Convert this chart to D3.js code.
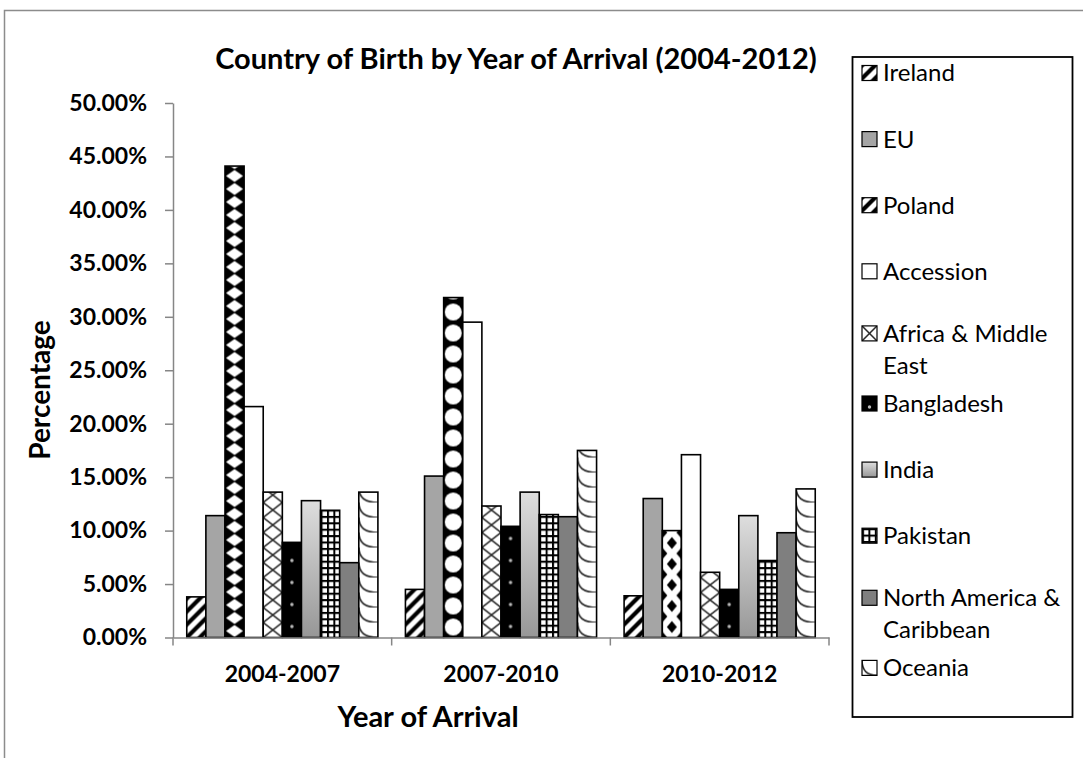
<!DOCTYPE html>
<html>
<head>
<meta charset="utf-8">
<script src="https://cdn.jsdelivr.net/npm/d3@7"></script>
<style>
  body { margin: 0; background: #fff; }
  text { font-family: Lato, "Open Sans", sans-serif; fill: #000; }
</style>
</head>
<body>
<svg id="chart" width="1083" height="758"></svg>
<script>
// Arrival periods and birth regions
const periods = ["2004-2007", "2007-2010", "2010-2012"];
const regions = ["Ireland", "EU", "Poland", "Accession", "Africa & Middle East",
                 "Bangladesh", "India", "Pakistan", "North America & Caribbean", "Oceania"];

// Share of arrivals (%) per region, one value per period
const ireland          = [3.8, 4.5, 3.9];
const eu               = [11.4, 15.1, 13.0];
const poland           = [44.1, 31.8, 10.0];
const accession        = [21.6, 29.5, 17.1];
const africaMiddleEast = [13.6, 12.3, 6.1];
const bangladesh       = [8.9, 10.4, 4.5];
const india            = [12.8, 13.6, 11.4];
const pakistan         = [11.9, 11.5, 7.2];
const northAmerica     = [7.0, 11.3, 9.8];
const oceania          = [13.6, 17.5, 13.9];

const yTicks = [0, 5, 10, 15, 20, 25, 30, 35, 40, 45, 50];
const legendLines = [["Ireland"], ["EU"], ["Poland"], ["Accession"], ["Africa & Middle", "East"],
                     ["Bangladesh"], ["India"], ["Pakistan"], ["North America &", "Caribbean"], ["Oceania"]];

const seriesValues = [ireland, eu, poland, accession, africaMiddleEast,
                      bangladesh, india, pakistan, northAmerica, oceania];

// Fill texture per region; the Poland texture renders differently per period
const textures = ["stripes", "eu", "poland", "white", "lattice", "dots", "gradient", "grid", "dark", "shingle"];
const polandTextures = ["diamond", "circle", "inverse"];

const rows = [];
regions.forEach((r, si) => periods.forEach((p, pi) => rows.push({ region: r, si, period: p, pi, value: seriesValues[si][pi] })));

const svg = d3.select("#chart");
const defs = svg.append("defs");

// Chart area frame
svg.append("rect").attr("x", 4.5).attr("y", 10.5).attr("width", 1100).attr("height", 800)
  .attr("fill", "#fff").attr("stroke", "#8c8c8c").attr("stroke-width", 1.5);

const plot = { left: 173, right: 829, top: 103, bottom: 637.5 };
const x0 = d3.scaleBand().domain(periods).range([plot.left, plot.right]).paddingInner(0).paddingOuter(0);
const x1 = d3.scaleBand().domain(regions).range([0, x0.bandwidth()]).paddingInner(0).paddingOuter(0.72);
const y = d3.scaleLinear().domain([0, 50]).range([plot.bottom, plot.top]);

// India gradient
const grad = defs.append("linearGradient").attr("id", "g-india").attr("x1", 0).attr("y1", 0).attr("x2", 0).attr("y2", 1);
grad.append("stop").attr("offset", 0).attr("stop-color", "#dedede");
grad.append("stop").attr("offset", 1).attr("stop-color", "#979797");

// Builds a pattern anchored at (ox, oy) for a given texture, returns the fill url
let patCount = 0;
function makeFill(kind, ox, oy, w) {
  if (kind === "eu") return "#a5a5a5";
  if (kind === "dark") return "#7f7f7f";
  if (kind === "white") return "#fff";
  if (kind === "gradient") return "url(#g-india)";
  const id = "p" + (patCount++);
  let tw = w, th = 13;
  const pat = defs.append("pattern").attr("id", id).attr("patternUnits", "userSpaceOnUse").attr("x", ox).attr("y", oy);
  const bg = pat.append("rect");
  switch (kind) {
    case "stripes":
      tw = 13; th = 13;
      bg.attr("fill", "#fff");
      pat.append("path").attr("d", `M-4,4 L4,-4 M0,${th} L${tw},0 M${tw - 4},${th + 4} L${tw + 4},${th - 4}`)
        .attr("stroke", "#000").attr("stroke-width", 4.2);
      break;
    case "lattice":
      tw = w; th = 15;
      bg.attr("fill", "#fff");
      pat.append("path").attr("d", `M0,0 L${tw},${th} M${tw},0 L0,${th}`).attr("stroke", "#222").attr("stroke-width", 1.5);
      break;
    case "dots":
      tw = w; th = 22;
      bg.attr("fill", "#000");
      pat.append("circle").attr("cx", tw / 2).attr("cy", th / 2).attr("r", 1.7).attr("fill", "#bbb");
      break;
    case "grid":
      tw = 6.4; th = 6.4;
      bg.attr("fill", "#fff");
      pat.append("path").attr("d", `M1,0 V${th} M0,1 H${tw}`).attr("stroke", "#000").attr("stroke-width", 2);
      break;
    case "shingle":
      tw = w; th = 15;
      bg.attr("fill", "#fff");
      pat.append("path").attr("d", `M0,0 C0,${th * 0.65} ${tw * 0.35},${th} ${tw},${th}`)
        .attr("fill", "none").attr("stroke", "#222").attr("stroke-width", 1.6);
      break;
    case "diamond":
      tw = w; th = 13;
      bg.attr("fill", "#000");
      pat.append("path").attr("d", `M${tw / 2},0.5 L${tw - 1},${th / 2} L${tw / 2},${th - 0.5} L1,${th / 2} Z`).attr("fill", "#fff");
      break;
    case "circle":
      tw = w; th = 21;
      bg.attr("fill", "#000");
      pat.append("circle").attr("cx", tw / 2).attr("cy", th / 2).attr("r", Math.min(tw, th) / 2 - 1).attr("fill", "#fff");
      break;
    case "inverse":
      tw = w; th = 21;
      bg.attr("fill", "#fff");
      pat.append("path").attr("d", `M${tw / 2},${th / 2 - 6} L${tw / 2 + 5},${th / 2} L${tw / 2},${th / 2 + 6} L${tw / 2 - 5},${th / 2} Z`).attr("fill", "#000");
      pat.append("path").attr("d", `M0,-6 L5,0 L0,6 Z M${tw},-6 L${tw - 5},0 L${tw},6 Z M0,${th - 6} L5,${th} L0,${th + 6} Z M${tw},${th - 6} L${tw - 5},${th} L${tw},${th + 6} Z`).attr("fill", "#000");
      break;
  }
  pat.attr("width", tw).attr("height", th);
  bg.attr("width", tw).attr("height", th);
  return `url(#${id})`;
}

// Bars
svg.append("g").selectAll("rect").data(rows).join("rect")
  .attr("x", d => x0(d.period) + x1(d.region))
  .attr("y", d => y(d.value))
  .attr("width", x1.bandwidth())
  .attr("height", d => y(0) - y(d.value))
  .attr("fill", d => {
    const kind = d.si === 2 ? polandTextures[d.pi] : textures[d.si];
    return makeFill(kind, x0(d.period) + x1(d.region), y(0), x1.bandwidth());
  })
  .attr("stroke", "#000").attr("stroke-width", 1.6);

// Y axis
const yAxis = svg.append("g").attr("transform", `translate(${plot.left},0)`)
  .call(d3.axisLeft(y).tickValues(yTicks).tickFormat(d => d.toFixed(2) + "%").tickSize(8).tickSizeOuter(0).tickPadding(18));
yAxis.selectAll("path, line").attr("stroke", "#868686").attr("stroke-width", 1.5);
yAxis.selectAll("text").attr("font-family", "Lato, sans-serif").attr("font-size", 23).attr("font-weight", "bold").attr("fill", "#000");

// X axis: line, boundary ticks, centred labels
const xAxis = svg.append("g").attr("transform", `translate(0,${plot.bottom})`)
  .call(d3.axisBottom(x0).tickSize(0).tickPadding(28).tickSizeOuter(0));
xAxis.select(".domain").attr("stroke", "#868686").attr("stroke-width", 1.5);
xAxis.selectAll("text").attr("font-family", "Lato, sans-serif").attr("font-size", 23).attr("font-weight", "bold").attr("fill", "#000");
const bounds = periods.map(p => x0(p)).concat([x0.range()[1]]);
xAxis.selectAll(".bound").data(bounds).join("line").attr("class", "bound")
  .attr("x1", d => d).attr("x2", d => d).attr("y1", 0).attr("y2", 8)
  .attr("stroke", "#868686").attr("stroke-width", 1.5);

// Titles
svg.append("text").attr("x", 516).attr("y", 69).attr("text-anchor", "middle")
  .attr("font-size", 29).attr("font-weight", "bold").text("Country of Birth by Year of Arrival (2004-2012)");
svg.append("text").attr("transform", "translate(50,390) rotate(-90)").attr("text-anchor", "middle")
  .attr("font-size", 28).attr("font-weight", "bold").text("Percentage");
svg.append("text").attr("x", 428).attr("y", 727).attr("text-anchor", "middle")
  .attr("font-size", 29).attr("font-weight", "bold").text("Year of Arrival");

// Legend
const legend = svg.append("g");
legend.append("rect").attr("x", 852.5).attr("y", 57).attr("width", 220).attr("height", 660)
  .attr("fill", "#fff").attr("stroke", "#000").attr("stroke-width", 1.8);
const slot = 66.1, firstY = 73;
regions.forEach((r, i) => {
  const lines = legendLines[i];
  const cy = firstY + i * slot - (lines.length > 1 ? 4 : 0);
  const sw = 15;
  const kind = i === 2 ? "stripes" : textures[i];
  legend.append("rect").attr("x", 862).attr("y", cy - sw / 2).attr("width", sw).attr("height", sw)
    .attr("fill", makeFill(kind, 862, cy - sw / 2, sw)).attr("stroke", "#000").attr("stroke-width", 1.2);
  const t = legend.append("text").attr("x", 883).attr("y", cy).attr("font-size", 24);
  lines.forEach((ln, k) => t.append("tspan").attr("x", 883).attr("dy", k === 0 ? "0.35em" : 32).text(ln));
});
</script>
</body>
</html>
